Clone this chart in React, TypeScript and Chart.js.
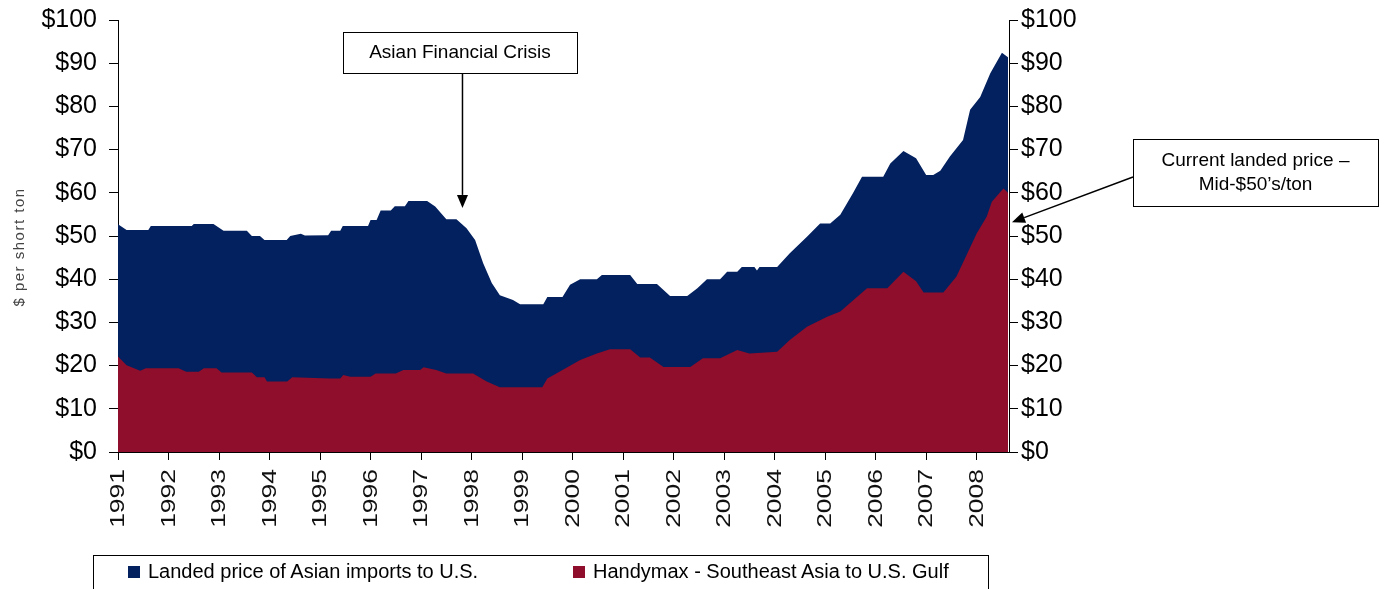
import React, { useEffect, useRef } from "react";
import { Chart, registerables } from "chart.js";

Chart.register(...registerables);

const FONT = "'Liberation Sans', Arial, sans-serif";

// Year ticks on the x axis
const yearTicks = [1991, 1992, 1993, 1994, 1995, 1996, 1997, 1998, 1999, 2000, 2001, 2002, 2003, 2004, 2005, 2006, 2007, 2008];

// Landed price of Asian imports to U.S. ($ per short ton)
const landedDates = [
  1991.0, 1991.17, 1991.6, 1991.65, 1992.46, 1992.5, 1992.89, 1993.09, 1993.55, 1993.65, 1993.81, 1993.9,
  1994.34, 1994.41, 1994.62, 1994.7, 1995.16, 1995.22, 1995.4, 1995.45, 1995.95, 1996.0, 1996.12, 1996.2,
  1996.4, 1996.48, 1996.68, 1996.75, 1997.12, 1997.28, 1997.5, 1997.7, 1997.9, 1998.07, 1998.23, 1998.4,
  1998.56, 1998.82, 1998.96, 1999.42, 1999.5, 1999.8, 1999.95, 2000.15, 2000.48, 2000.58, 2001.14, 2001.28,
  2001.67, 2001.93, 2002.27, 2002.47, 2002.66, 2002.92, 2003.06, 2003.26, 2003.35, 2003.6, 2003.65, 2003.7,
  2004.05, 2004.3, 2004.64, 2004.9, 2005.1, 2005.3, 2005.55, 2005.73, 2006.15, 2006.29, 2006.55, 2006.8,
  2007.0, 2007.14, 2007.28, 2007.47, 2007.73, 2007.87, 2008.07, 2008.27, 2008.5, 2008.62,
];
const landedPrices = [
  52.7, 51.4, 51.4, 52.3, 52.3, 52.8, 52.8, 51.2, 51.2, 50.0, 50.0, 49.1,
  49.1, 50.0, 50.5, 50.1, 50.2, 51.2, 51.2, 52.3, 52.3, 53.7, 53.7, 55.9,
  55.9, 56.9, 56.9, 58.1, 58.1, 56.8, 53.9, 53.9, 51.8, 49.1, 43.7, 39.1,
  36.3, 35.2, 34.2, 34.2, 35.9, 35.9, 38.7, 40.0, 40.0, 41.0, 41.0, 38.9,
  38.9, 36.1, 36.1, 37.9, 40.0, 40.0, 41.7, 41.7, 42.8, 42.8, 42.0, 42.8,
  42.8, 46.0, 49.8, 52.9, 52.9, 54.9, 59.9, 63.7, 63.7, 66.8, 69.7, 68.0,
  64.1, 64.1, 65.1, 68.4, 72.2, 79.2, 82.2, 87.7, 92.4, 91.4,
];

// Handymax - Southeast Asia to U.S. Gulf ($ per short ton)
const handyDates = [
  1991.0, 1991.17, 1991.44, 1991.55, 1992.2, 1992.35, 1992.6, 1992.7, 1992.95, 1993.05, 1993.65, 1993.75,
  1993.9, 1993.95, 1994.35, 1994.45, 1995.2, 1995.4, 1995.46, 1995.6, 1996.0, 1996.1, 1996.5, 1996.65,
  1996.98, 1997.05, 1997.3, 1997.5, 1998.03, 1998.3, 1998.56, 1999.4, 1999.5, 1999.8, 2000.15, 2000.48,
  2000.74, 2001.14, 2001.34, 2001.53, 2001.8, 2002.33, 2002.58, 2002.92, 2003.26, 2003.5, 2004.05, 2004.3,
  2004.64, 2005.04, 2005.3, 2005.83, 2006.23, 2006.55, 2006.8, 2006.95, 2007.34, 2007.6, 2008.0, 2008.2,
  2008.3, 2008.53, 2008.62,
];
const handyRates = [
  22.1, 20.1, 18.8, 19.4, 19.4, 18.6, 18.6, 19.4, 19.4, 18.4, 18.4, 17.3,
  17.3, 16.3, 16.3, 17.3, 17.0, 17.0, 17.8, 17.4, 17.4, 18.2, 18.2, 19.0,
  19.0, 19.6, 19.0, 18.2, 18.2, 16.3, 15.0, 15.0, 17.0, 19.0, 21.3, 22.8,
  23.8, 23.8, 21.9, 21.9, 19.7, 19.7, 21.7, 21.7, 23.6, 22.8, 23.2, 25.9,
  29.0, 31.3, 32.5, 37.9, 37.9, 41.7, 39.5, 36.9, 36.9, 40.6, 50.6, 54.5,
  57.9, 61.0, 60.0,
];

const seriesNames = ["Landed price of Asian imports to U.S.", "Handymax - Southeast Asia to U.S. Gulf"];
const seriesColors = ["#03205F", "#8E0E2B"];

const yAxisTitle = "$ per short ton";
const crisisLabel = "Asian Financial Crisis";
const crisisPoint = { x: 1997.82, y: 56.5 };
const currentLabel = ["Current landed price \u2013", "Mid-$50\u2019s/ton"];
const currentPoint = { x: 2008.64, y: 53.2 };

function drawArrow(ctx: CanvasRenderingContext2D, x1: number, y1: number, x2: number, y2: number) {
  const ang = Math.atan2(y2 - y1, x2 - x1);
  const head = 13;
  const half = 5.5;
  const bx = x2 - head * Math.cos(ang);
  const by = y2 - head * Math.sin(ang);
  ctx.save();
  ctx.strokeStyle = "#000";
  ctx.fillStyle = "#000";
  ctx.lineWidth = 1.5;
  ctx.beginPath();
  ctx.moveTo(x1, y1);
  ctx.lineTo(bx, by);
  ctx.stroke();
  ctx.beginPath();
  ctx.moveTo(x2, y2);
  ctx.lineTo(bx + half * Math.sin(ang), by - half * Math.cos(ang));
  ctx.lineTo(bx - half * Math.sin(ang), by + half * Math.cos(ang));
  ctx.closePath();
  ctx.fill();
  ctx.restore();
}

function drawBox(ctx: CanvasRenderingContext2D, x: number, y: number, w: number, h: number, lines: string[], size: number, lineGap: number) {
  ctx.save();
  ctx.fillStyle = "#fff";
  ctx.fillRect(x, y, w, h);
  ctx.strokeStyle = "#000";
  ctx.lineWidth = 1;
  ctx.strokeRect(x + 0.5, y + 0.5, w, h);
  ctx.fillStyle = "#000";
  ctx.font = `${size}px ${FONT}`;
  ctx.textAlign = "center";
  ctx.textBaseline = "middle";
  const cy = y + h / 2 - ((lines.length - 1) * lineGap) / 2;
  lines.forEach((t, i) => ctx.fillText(t, x + w / 2, cy + i * lineGap));
  ctx.restore();
}

const annotationPlugin = {
  id: "annotations",
  afterDraw(chart: any) {
    const ctx = chart.ctx as CanvasRenderingContext2D;
    const xs = chart.scales.x;
    const ys = chart.scales.y;

    // x-axis year labels (rotated, slightly elongated like the reference)
    ctx.save();
    ctx.fillStyle = "#111";
    ctx.font = `21px ${FONT}`;
    ctx.textAlign = "right";
    ctx.textBaseline = "middle";
    xs.ticks.forEach((t: any) => {
      const px = xs.getPixelForValue(t.value);
      ctx.save();
      ctx.translate(px + 0.5, xs.top + 17);
      ctx.rotate(-Math.PI / 2);
      ctx.scale(1.26, 1);
      ctx.fillText(String(t.value), 0, 0);
      ctx.restore();
    });
    ctx.restore();

    // y-axis title
    ctx.save();
    ctx.translate(20, 247);
    ctx.rotate(-Math.PI / 2);
    ctx.font = `15px ${FONT}`;
    (ctx as any).letterSpacing = "1.5px";
    ctx.fillStyle = "#444";
    ctx.textAlign = "center";
    ctx.textBaseline = "middle";
    ctx.fillText(yAxisTitle, 0, 0);
    ctx.restore();

    // Asian Financial Crisis
    drawBox(ctx, 343, 32, 234, 41, [crisisLabel], 19, 0);
    const cx = xs.getPixelForValue(crisisPoint.x);
    drawArrow(ctx, cx, 73, cx, ys.getPixelForValue(crisisPoint.y));

    // Current landed price
    drawBox(ctx, 1133, 139, 245, 67, currentLabel, 19, 24);
    drawArrow(ctx, 1133, 177, xs.getPixelForValue(currentPoint.x) + 3, ys.getPixelForValue(currentPoint.y));
  },
};

export default function App() {
  const ref = useRef<HTMLCanvasElement | null>(null);

  useEffect(() => {
    if (!ref.current) return;
    const landed = landedDates.map((d, i) => ({ x: d, y: landedPrices[i] }));
    const handy = handyDates.map((d, i) => ({ x: d, y: handyRates[i] }));
    const tickFont = { family: FONT, size: 25 };
    const chart = new Chart(ref.current, {
      type: "line",
      data: {
        datasets: [
          {
            label: seriesNames[0],
            data: landed,
            backgroundColor: seriesColors[0],
            borderColor: seriesColors[0],
            borderWidth: 0,
            pointRadius: 0,
            fill: "origin",
            order: 1,
          },
          {
            label: seriesNames[1],
            data: handy,
            backgroundColor: seriesColors[1],
            borderColor: seriesColors[1],
            borderWidth: 0,
            pointRadius: 0,
            fill: "origin",
            order: 0,
          },
        ],
      },
      options: {
        responsive: false,
        animation: false,
        layout: { padding: { top: 20, left: 0, right: 0, bottom: 0 } },
        plugins: { legend: { display: false }, tooltip: { enabled: false } },
        scales: {
          x: {
            type: "linear",
            min: 1991,
            max: 2008.64,
            afterFit: (s: any) => { s.height = 137; s.paddingLeft = 0; s.paddingRight = 0; },
            afterBuildTicks: (s: any) => { s.ticks = yearTicks.map((v) => ({ value: v })); },
            ticks: { display: false, autoSkip: false },
            grid: { drawOnChartArea: false, drawTicks: true, tickLength: 8, color: "#000" },
            border: { color: "#000", width: 1 },
          },
          y: {
            position: "left",
            min: 0,
            max: 100,
            afterFit: (s: any) => { s.width = 118; s.paddingTop = 0; s.paddingBottom = 0; },
            ticks: { stepSize: 10, font: tickFont, color: "#000", padding: 12, callback: (v: any) => "$" + v },
            grid: { drawOnChartArea: false, tickLength: 9, color: "#000" },
            border: { color: "#000", width: 1 },
          },
          y2: {
            position: "right",
            min: 0,
            max: 100,
            afterFit: (s: any) => { s.width = 377; s.paddingTop = 0; s.paddingBottom = 0; },
            ticks: { stepSize: 10, font: tickFont, color: "#000", padding: 3, callback: (v: any) => "$" + v },
            grid: { drawOnChartArea: false, tickLength: 9, color: "#000" },
            border: { color: "#000", width: 1 },
          },
        },
      },
      plugins: [annotationPlugin],
    } as any);
    return () => chart.destroy();
  }, []);

  return (
    <div style={{ position: "fixed", left: 0, top: 0, width: 1386, height: 589, overflow: "hidden", background: "#fff" }}>
      <canvas ref={ref} width={1386} height={589} style={{ display: "block" }} />
      <div
        style={{
          position: "absolute",
          left: 93,
          top: 555,
          width: 896,
          height: 50,
          border: "1px solid #000",
          boxSizing: "border-box",
          fontFamily: FONT,
          fontSize: 20,
          color: "#000",
        }}
      >
        {seriesNames.map((name, i) => (
          <div
            key={name}
            style={{ position: "absolute", left: i === 0 ? 34 : 479, top: 4, display: "flex", alignItems: "center", whiteSpace: "nowrap" }}
          >
            <span style={{ display: "inline-block", width: 12, height: 12, background: seriesColors[i], marginRight: 8 }} />
            <span>{name}</span>
          </div>
        ))}
      </div>
    </div>
  );
}
